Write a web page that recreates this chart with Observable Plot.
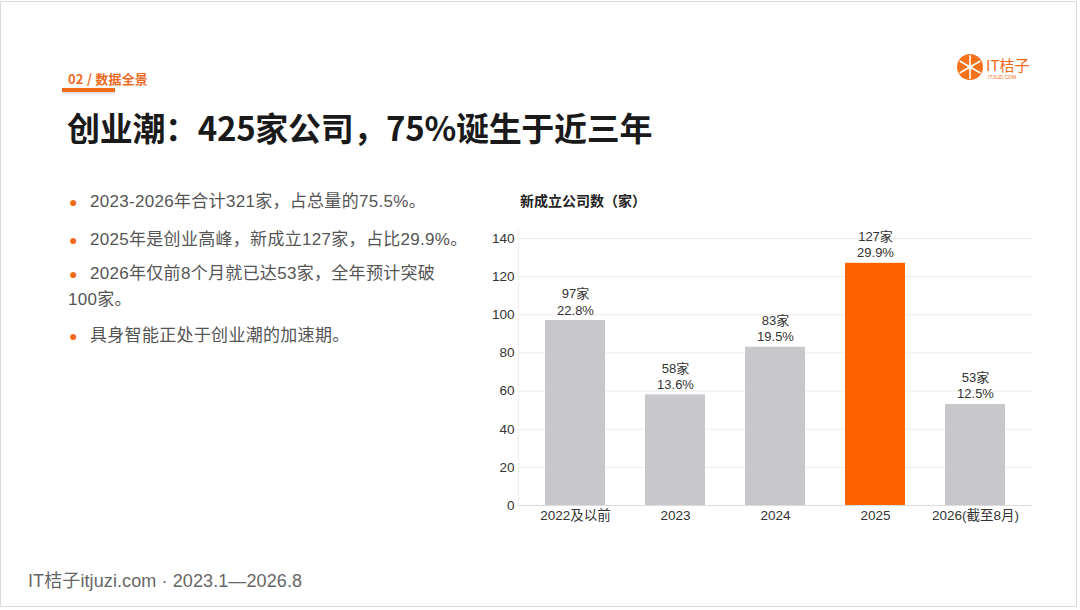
<!DOCTYPE html>
<html>
<head>
<meta charset="utf-8">
<script src="https://cdn.jsdelivr.net/npm/d3@7"></script>
<script src="https://cdn.jsdelivr.net/npm/@observablehq/plot@0.6"></script>
<style>
  html, body { margin: 0; padding: 0; background: #fff; }
  body { width: 1080px; height: 610px; position: relative; overflow: hidden;
         font-family: "Liberation Sans", "Noto Sans CJK SC", sans-serif; }
  .slide { position: absolute; left: 0; top: 1px; width: 1077px; height: 606px;
           border: 1px solid #d9d9d9; box-sizing: border-box; }
  .kicker { position: absolute; left: 68px; top: 69px; font-size: 13px; font-weight: 700;
            color: #ee6a1f; font-family: "Noto Sans CJK SC", sans-serif; letter-spacing: 0.2px; }
  .kbar { position: absolute; left: 62px; top: 88px; width: 53px; height: 4px; background: #f26a16;
          box-shadow: 0 2px 3px rgba(0,0,0,0.15); }
  .title { position: absolute; left: 67px; top: 106px; font-size: 33px; font-weight: 700; color: #1a1a1a;
           font-family: "Noto Sans CJK SC", sans-serif; letter-spacing: -0.3px; line-height: 42px; }
  .bullets { position: absolute; left: 68px; top: 189px; font-size: 17px; color: #555; width: 420px;
             letter-spacing: 0.3px; }
  .bullets p { margin: 0; line-height: 25px; }
  .dot { color: #f26a16; font-size: 14px; display: inline-block; width: 21px; padding-left: 1px; letter-spacing: 0; }
  .ctitle { position: absolute; left: 520px; top: 190px; font-size: 14px; font-weight: 700; color: #222;
            font-family: "Noto Sans CJK SC", sans-serif; }
  #chart { position: absolute; left: 480px; top: 210px; }
  .foot { position: absolute; left: 28px; top: 566px; font-size: 18px; color: #666; letter-spacing: 0.1px; }
  .logo { position: absolute; left: 955px; top: 50px; }
</style>
</head>
<body>
<div class="slide"></div>
<div class="kicker">02 / 数据全景</div>
<div class="kbar"></div>
<div class="title">创业潮：425家公司，75%诞生于近三年</div>
<svg class="logo" width="90" height="36" viewBox="0 0 90 36">
  <circle cx="15" cy="17" r="13" fill="#f5711c"/>
  <g stroke="#fff" stroke-width="1.6">
    <line x1="15" y1="5" x2="15" y2="29"/>
    <line x1="4.6" y1="11" x2="25.4" y2="23"/>
    <line x1="4.6" y1="23" x2="25.4" y2="11"/>
  </g>
  <circle cx="15" cy="17" r="2.5" fill="#fff"/>
  <text x="31" y="21" font-size="15" fill="#f26a16" font-family="Noto Sans CJK SC, sans-serif">IT桔子</text>
  <text x="33" y="29" font-size="5" fill="#f26a16" font-family="Liberation Sans, sans-serif">ITJUZI.COM</text>
</svg>
<div class="bullets">
  <p style="margin-bottom:12px"><span class="dot">●</span>2023-2026年合计321家，占总量的75.5%。</p>
  <p style="margin-bottom:8px"><span class="dot">●</span>2025年是创业高峰，新成立127家，占比29.9%。</p>
  <p><span class="dot">●</span>2026年仅前8个月就已达53家，全年预计突破<br>100家。</p>
  <p style="margin-top:11px"><span class="dot">●</span>具身智能正处于创业潮的加速期。</p>
</div>
<div class="ctitle">新成立公司数（家）</div>
<div id="chart"></div>
<div class="foot">IT桔子itjuzi.com · 2023.1—2026.8</div>
<script>
const categories = ["2022及以前", "2023", "2024", "2025", "2026(截至8月)"];
const counts = [97, 58, 83, 127, 53];
const shares = ["22.8%", "13.6%", "19.5%", "29.9%", "12.5%"];
const highlight = "2025";
const yTicks = [0, 20, 40, 60, 80, 100, 120, 140];

const data = categories.map((c, i) => ({cat: c, count: counts[i], share: shares[i]}));

const chart = Plot.plot({
  width: 560,
  height: 320,
  marginLeft: 38,
  marginRight: 8,
  marginTop: 18.5,
  marginBottom: 25,
  style: {fontFamily: "Liberation Sans, Noto Sans CJK SC, sans-serif", fontSize: "13px", color: "#333", background: "transparent"},
  x: {domain: categories, paddingInner: 0.4, paddingOuter: 0.2, insetLeft: 6, insetRight: 6, label: null},
  y: {domain: [0, 145], label: null},
  marks: [
    Plot.gridY(yTicks, {stroke: "#ececec", strokeOpacity: 1}),
    Plot.frame({anchor: "left", stroke: "#eeeeee"}),
    Plot.barY(data, {x: "cat", y: "count", fill: d => d.cat === highlight ? "#ff6200" : "#c8c8cc"}),
    Plot.ruleY([0], {stroke: "#dddddd"}),
    Plot.text(data, {x: "cat", y: "count", text: d => `${d.count}家\n${d.share}`, lineAnchor: "bottom", dy: -6, lineHeight: 1.25, fontSize: 13, fill: "#333"}),
    Plot.axisY(yTicks, {tickSize: 0, tickPadding: 4, label: null, fontSize: 13.5, fill: "#333"}),
    Plot.axisX({tickSize: 0, tickPadding: 5, label: null, fontSize: 13.5, fill: "#333"})
  ]
});
document.getElementById("chart").appendChild(chart);
</script>
</body>
</html>
